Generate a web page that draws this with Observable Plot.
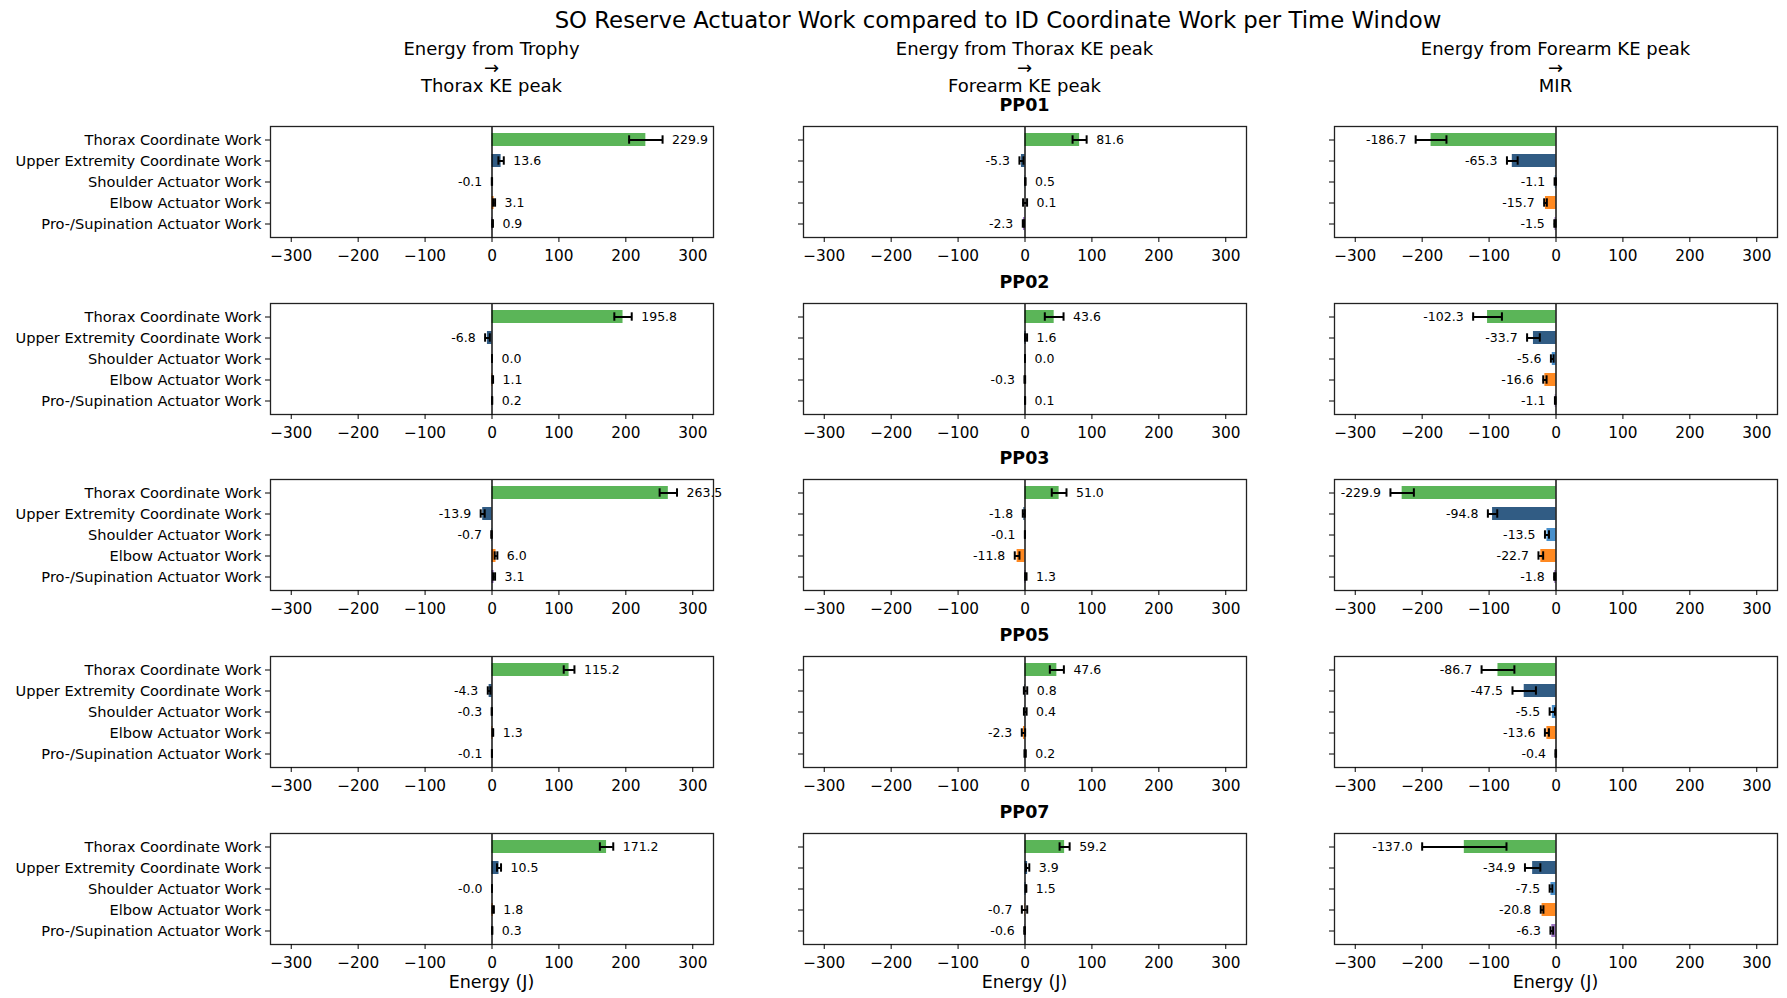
<!DOCTYPE html>
<html><head><meta charset="utf-8">
<script src="https://cdn.jsdelivr.net/npm/d3@7"></script>
<script src="https://cdn.jsdelivr.net/npm/@observablehq/plot@0.6"></script>
<style>
html,body{margin:0;padding:0;background:#fff;}
#fig{position:relative;width:1787px;height:998px;font-family:"DejaVu Sans",sans-serif;color:#000;overflow:hidden;background:#fff}
.lbl{position:absolute;transform:translate(-50%,-50%);white-space:nowrap;line-height:1}
.panel{position:absolute}
</style></head><body><div id="fig"></div>
<script>
// ---------- data ----------
const title = "SO Reserve Actuator Work compared to ID Coordinate Work per Time Window";
const windowTitles = [
  ["Energy from Trophy", "→", "Thorax KE peak"],
  ["Energy from Thorax KE peak", "→", "Forearm KE peak"],
  ["Energy from Forearm KE peak", "→", "MIR"]
];
const participants = ["PP01", "PP02", "PP03", "PP05", "PP07"];
const categories = [
  "Thorax Coordinate Work",
  "Upper Extremity Coordinate Work",
  "Shoulder Actuator Work",
  "Elbow Actuator Work",
  "Pro-/Supination Actuator Work"
];
const categoryColors = ["#4daf4a", "#1f4e79", "#3a87c8", "#ff7f0e", "#9467bd"];
const xTicks = [-300, -200, -100, 0, 100, 200, 300];
const xDomain = [-331, 331];
const xLabel = "Energy (J)";

// window 1: Trophy -> Thorax KE peak (rows = participants)
const meanW1 = [
  [229.9, 13.6, -0.1, 3.1, 0.9],
  [195.8, -6.8, 0.0, 1.1, 0.2],
  [263.5, -13.9, -0.7, 6.0, 3.1],
  [115.2, -4.3, -0.3, 1.3, -0.1],
  [171.2, 10.5, -0.01, 1.8, 0.3]
];
const sdW1 = [
  [25, 4, 0.2, 1.5, 0.5],
  [13, 3.5, 0, 0.5, 0.1],
  [13, 3, 0.3, 2, 1.5],
  [8, 2, 0.1, 0.5, 0.1],
  [10, 3, 0, 1, 0.1]
];
// window 2: Thorax KE peak -> Forearm KE peak
const meanW2 = [
  [81.6, -5.3, 0.5, 0.1, -2.3],
  [43.6, 1.6, 0.0, -0.3, 0.1],
  [51.0, -1.8, -0.1, -11.8, 1.3],
  [47.6, 0.8, 0.4, -2.3, 0.2],
  [59.2, 3.9, 1.5, -0.7, -0.6]
];
const sdW2 = [
  [10.5, 3, 0.3, 3, 1],
  [14, 1.5, 0, 0.5, 0],
  [11, 1.5, 0, 3.5, 1],
  [10.5, 2.5, 2, 2.5, 1],
  [7.5, 2.5, 0.5, 4, 0.5]
];
// window 3: Forearm KE peak -> MIR
const meanW3 = [
  [-186.7, -65.3, -1.1, -15.7, -1.5],
  [-102.3, -33.7, -5.6, -16.6, -1.1],
  [-229.9, -94.8, -13.5, -22.7, -1.8],
  [-86.7, -47.5, -5.5, -13.6, -0.4],
  [-137.0, -34.9, -7.5, -20.8, -6.3]
];
const sdW3 = [
  [23, 8, 1, 2, 1],
  [21.5, 9.5, 2, 2.5, 0.5],
  [17.5, 7, 3, 3.5, 1],
  [24.5, 17.5, 4, 3, 0.5],
  [63, 11.5, 2, 2, 2]
];

// ---------- layout ----------
const means = [meanW1, meanW2, meanW3];
const sds = [sdW1, sdW2, sdW3];
const colLeft = [270, 803, 1334];
const rowTop = [126, 302.7, 479.3, 655.7, 832.7];
const PW = 443, PH = 111;
const fig = document.getElementById("fig");

function addText(txt, x, y, css) {
  const d = document.createElement("div");
  d.className = "lbl";
  d.textContent = txt;
  d.style.left = x + "px";
  d.style.top = y + "px";
  Object.assign(d.style, css);
  fig.appendChild(d);
}

addText(title, 998, 20, {fontSize: "22.8px"});
windowTitles.forEach((lines, c) => {
  const cx = colLeft[c] + PW / 2;
  [49.3, 67.7, 86].forEach((y, k) => addText(lines[k], cx, y, {fontSize: "18px"}));
  addText(xLabel, cx, 983, {fontSize: "17.5px"});
});
participants.forEach((p, r) => {
  addText(p, colLeft[1] + PW / 2, rowTop[r] - 20, {fontSize: "17.5px", fontWeight: "bold"});
});

for (let c = 0; c < 3; c++) {
  for (let r = 0; r < 5; r++) {
    const data = categories.map((cat, i) => ({category: cat, value: means[c][r][i], sd: sds[c][r][i]}));
    const pos = data.filter(d => !(d.value < 0));
    const neg = data.filter(d => d.value < 0);
    const ml = c === 0 ? 268 : 12, mt = 2, mr = 4, mb = 30;
    const chart = Plot.plot({
      width: ml + PW + mr,
      height: mt + PH + mb,
      marginLeft: ml, marginTop: mt, marginRight: mr, marginBottom: mb,
      style: {fontFamily: "DejaVu Sans", fontSize: "15px", overflow: "visible", background: "transparent", color: "#000"},
      x: {domain: xDomain},
      y: {type: "band", domain: categories, paddingInner: 0.4, paddingOuter: 0.23},
      color: {domain: categories, range: categoryColors},
      marks: [
        Plot.barX(data, {y: "category", x1: 0, x2: "value", fill: "category", fillOpacity: 0.92}),
        Plot.ruleX([0], {stroke: "#000", strokeWidth: 1.4}),
        Plot.ruleY(data, {y: "category", x1: d => d.value - d.sd, x2: d => d.value + d.sd, stroke: "#000", strokeWidth: 2}),
        Plot.tickX(data, {y: "category", x: d => d.value - d.sd, stroke: "#000", strokeWidth: 2, insetTop: 2.3, insetBottom: 2.3}),
        Plot.tickX(data, {y: "category", x: d => d.value + d.sd, stroke: "#000", strokeWidth: 2, insetTop: 2.3, insetBottom: 2.3}),
        Plot.text(pos, {y: "category", x: d => d.value + d.sd, text: d => d.value.toFixed(1), dx: 9.5, textAnchor: "start", fontSize: 12.5, fill: "#000"}),
        Plot.text(neg, {y: "category", x: d => d.value - d.sd, text: d => d.value.toFixed(1), dx: -9.5, textAnchor: "end", fontSize: 12.5, fill: "#000"}),
        Plot.frame({stroke: "#222", strokeWidth: 1.3}),
        Plot.axisX({ticks: xTicks, tickSize: 5, tickPadding: 8, fontSize: 15.3, label: null}),
        c === 0
          ? Plot.axisY({tickSize: 5, tickPadding: 4, fontSize: 14.6, label: null})
          : Plot.axisY({tickSize: 5, tickPadding: 4, tickFormat: () => "", label: null})
      ]
    });
    chart.classList.add("panel");
    chart.style.left = (colLeft[c] - ml) + "px";
    chart.style.top = (rowTop[r] - mt) + "px";
    chart.style.maxWidth = "none";
    fig.appendChild(chart);
  }
}
</script></body></html>
